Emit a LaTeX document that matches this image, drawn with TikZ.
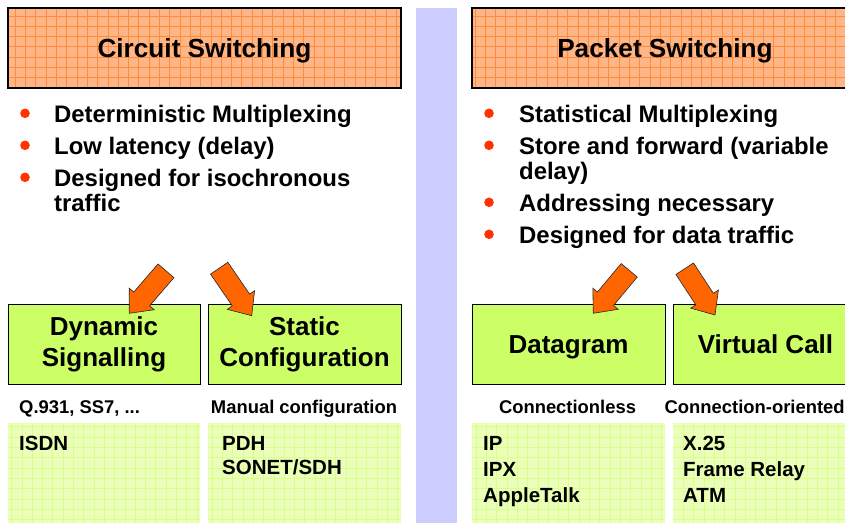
\documentclass[tikz,border=0pt]{standalone}
\usepackage{fontspec}
\setmainfont{Liberation Sans}
\usetikzlibrary{calc}
\definecolor{titlefill}{RGB}{255,182,135}
\definecolor{titlegrid}{RGB}{255,140,60}
\definecolor{boxgreen}{RGB}{204,255,102}
\definecolor{lightgreen}{RGB}{236,255,186}
\definecolor{lightgrid}{RGB}{216,255,140}
\definecolor{dividerblue}{RGB}{204,204,255}
\definecolor{arroworange}{RGB}{255,102,0}
\definecolor{bulletred}{RGB}{255,51,0}
\tikzset{
  gridfill/.style={path picture={\draw[color=#1, line width=0.6pt, step=10.3pt]
      (path picture bounding box.south west) grid (path picture bounding box.north east);}},
  titlebox/.style={draw=black, line width=1.2pt, fill=titlefill, gridfill=titlegrid,
      minimum height=80pt, inner sep=0pt, text height=23.5pt, text depth=5.5pt,
      font=\fontsize{26.2}{30}\selectfont\bfseries},
  greenbox/.style={draw=black, line width=0.9pt, fill=boxgreen, minimum height=80pt,
      inner sep=0pt, align=center, font=\fontsize{26}{31}\selectfont\bfseries},
  oneline/.style={text height=23.5pt, text depth=5.5pt},
  listbox/.style={fill=lightgreen, gridfill=lightgrid, minimum height=110pt,
      inner sep=0pt, anchor=north west},
  bullettext/.style={anchor=base west, inner sep=0pt, font=\fontsize{23.9}{26}\selectfont\bfseries},
  smalllabel/.style={inner sep=0pt, font=\fontsize{18.4}{22}\selectfont\bfseries},
  itemtext/.style={anchor=base west, inner sep=0pt, font=\fontsize{20.5}{25}\selectfont\bfseries},
  blockarrow/.style={draw=black!85, line width=0.6pt, fill=arroworange, line join=miter},
  bulletdot/.style={fill=bulletred}
}
\newcommand\blockarr[2]{%
  \draw[blockarrow]
    ($(#1)!10.5pt!90:(#2)$) --
    ($($(#2)!19pt!(#1)$)!10.5pt!90:(#2)$) --
    ($($(#2)!19pt!(#1)$)!16.5pt!90:(#2)$) --
    (#2) --
    ($($(#2)!19pt!(#1)$)!16.5pt!-90:(#2)$) --
    ($($(#2)!19pt!(#1)$)!10.5pt!-90:(#2)$) --
    ($(#1)!10.5pt!-90:(#2)$) -- cycle;}
\begin{document}
\begin{tikzpicture}[x=1pt, y=-1pt]
\useasboundingbox (0,0) rectangle (845,522);
\clip (0,0) rectangle (845,522);

% divider
\fill[dividerblue] (416,8) rectangle (457,530);

% title boxes
\node[titlebox, minimum width=393pt] (cs) at (204.5,48) {Circuit Switching};
\node[titlebox, minimum width=386pt] (ps) at (665,48) {Packet Switching};

% bullets left
\fill[bulletdot] (25,113.3) circle (4.8pt);
\fill[bulletdot] (25,145.3) circle (4.8pt);
\fill[bulletdot] (25,177.3) circle (4.8pt);
\node[bullettext] (l1) at (54,122) {Deterministic Multiplexing};
\node[bullettext] (l2) at (54,154) {Low latency (delay)};
\node[bullettext] (l3a) at (54,186) {Designed for isochronous};
\node[bullettext] (l3b) at (54,211) {traffic};

% bullets right
\fill[bulletdot] (489,113.3) circle (4.8pt);
\fill[bulletdot] (489,145.3) circle (4.8pt);
\fill[bulletdot] (489,202.3) circle (4.8pt);
\fill[bulletdot] (489,234.3) circle (4.8pt);
\node[bullettext] (r1) at (519,122) {Statistical Multiplexing};
\node[bullettext] (r2a) at (519,154) {Store and forward (variable};
\node[bullettext] (r2b) at (519,179.5) {delay)};
\node[bullettext] (r3) at (519,211) {Addressing necessary};
\node[bullettext] (r4) at (519,243) {Designed for data traffic};

% green boxes
\node[greenbox, minimum width=192pt] (dyn) at (104,344) {Dynamic\\Signalling};
\node[greenbox, minimum width=193pt] (stat) at (304.5,344) {Static\\Configuration};
\node[greenbox, oneline, minimum width=193pt] (dg) at (568.5,344) {Datagram};
\node[greenbox, oneline, minimum width=185pt] (vc) at (765.5,344) {Virtual Call};

% small labels
\node[smalllabel, anchor=base west] (q931) at (19,413) {Q.931, SS7, ...};
\node[smalllabel, anchor=base] (manual) at (304,413) {Manual configuration};
\node[smalllabel, anchor=base] (cl) at (567.5,413) {Connectionless};
\node[smalllabel, anchor=base west] (co) at (664.5,413) {Connection-oriented};

% list boxes
\node[listbox, minimum width=192pt] (lb1) at (8,423) {};
\node[listbox, minimum width=193pt] (lb2) at (208,423) {};
\node[listbox, minimum width=193pt] (lb3) at (472,423) {};
\node[listbox, minimum width=185pt] (lb4) at (673,423) {};

\node[itemtext] (isdn) at (19,450) {ISDN};
\node[itemtext] (pdh) at (222,450) {PDH};
\node[itemtext] (sonet) at (222,474.5) {SONET/SDH};
\node[itemtext] (ip) at (483,450) {IP};
\node[itemtext] (ipx) at (483,476) {IPX};
\node[itemtext] (apple) at (483,502) {AppleTalk};
\node[itemtext] (x25) at (683,450) {X.25};
\node[itemtext] (fr) at (683,476) {Frame Relay};
\node[itemtext] (atm) at (683,502) {ATM};

% block arrows
\coordinate (a1t) at (166,270.8);
\coordinate (a1h) at (129.3,313.3);
\coordinate (a2t) at (219.2,268.2);
\coordinate (a2h) at (251.7,315.7);
\coordinate (a3t) at (629.2,270.3);
\coordinate (a3h) at (593.3,313.3);
\coordinate (a4t) at (684.7,268.7);
\coordinate (a4h) at (715,315);
\blockarr{a1t}{a1h}
\blockarr{a2t}{a2h}
\blockarr{a3t}{a3h}
\blockarr{a4t}{a4h}
\end{tikzpicture}
\end{document}
